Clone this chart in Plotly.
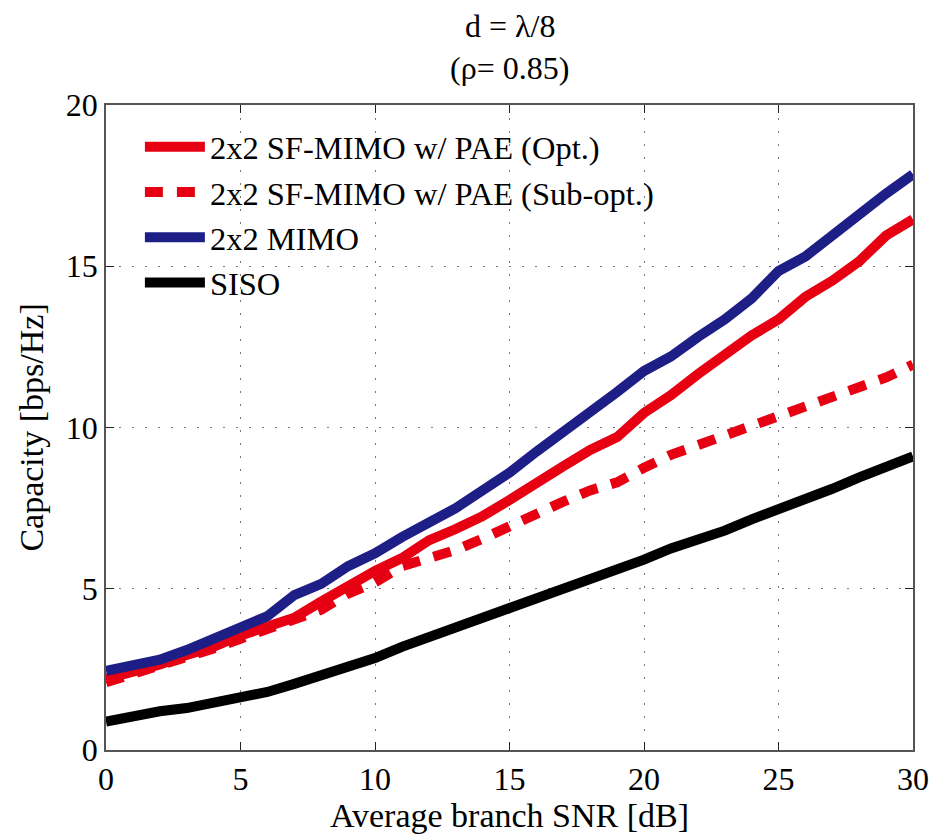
import plotly.graph_objects as go

snr = list(range(0, 31))

mimo_2x2 = [2.45, 2.6, 2.8, 3.1, 3.45, 3.85, 4.15, 4.8, 5.15, 5.7, 6.1,
            6.6, 7.05, 7.5, 8.05, 8.6, 9.25, 9.85, 10.45, 11.1, 11.75,
            12.2, 12.8, 13.35, 14.0, 14.85, 15.3, 16.0, 16.6, 17.25, 17.85]

sf_opt = [2.2, 2.4, 2.65, 2.95, 3.2, 3.55, 3.8, 4.1, 4.6, 5.1, 5.55,
          5.95, 6.5, 6.85, 7.25, 7.75, 8.3, 8.8, 9.3, 9.7, 10.45,
          11.0, 11.65, 12.25, 12.85, 13.35, 14.05, 14.55, 15.15, 15.95, 16.45]

sf_subopt = [2.1, 2.35, 2.6, 2.85, 3.15, 3.45, 3.75, 4.0, 4.35, 4.85, 5.2,
             5.7, 5.95, 6.2, 6.55, 6.95, 7.3, 7.7, 8.05, 8.3, 8.75,
             9.15, 9.45, 9.75, 10.05, 10.4, 10.65, 10.95, 11.25, 11.55, 11.95]

siso = [0.88, 1.05, 1.2, 1.3, 1.45, 1.6, 1.8, 2.05, 2.3, 2.55, 2.85,
        3.2, 3.5, 3.75, 4.05, 4.35, 4.65, 4.95, 5.3, 5.6, 5.9,
        6.25, 6.5, 6.8, 7.15, 7.45, 7.75, 8.1, 8.45, 8.75, 9.1]

names = ["2x2 SF-MIMO w/ PAE (Opt.)", "2x2 SF-MIMO w/ PAE (Sub-opt.)",
         "2x2 MIMO", "SISO"]
title_lines = ["d = λ/8", "(ρ= 0.85)"]
x_ticks = [0, 5, 10, 15, 20, 25, 30]
y_ticks = [0, 5, 10, 15, 20]

RED = "#E60012"
BLUE = "#1E1E87"
FONT = "Liberation Serif, Times New Roman, serif"

fig = go.Figure()
fig.add_trace(go.Scatter(x=snr, y=sf_opt, mode="lines", name=names[0],
                         line=dict(color=RED, width=10)))
fig.add_trace(go.Scatter(x=snr, y=sf_subopt, mode="lines", name=names[1],
                         line=dict(color=RED, width=10, dash="18px,14px")))
fig.add_trace(go.Scatter(x=snr, y=mimo_2x2, mode="lines", name=names[2],
                         line=dict(color=BLUE, width=10)))
fig.add_trace(go.Scatter(x=snr, y=siso, mode="lines", name=names[3],
                         line=dict(color="black", width=10)))

axis_common = dict(
    showline=True, linecolor="#555", linewidth=1.5, mirror="ticks",
    ticks="inside", ticklen=8, tickcolor="#222",
    showgrid=True, gridcolor="#777", griddash="2px,11px", gridwidth=1.2,
    zeroline=False, tickfont=dict(family=FONT, size=32, color="black"),
)

fig.update_layout(
    width=943, height=835,
    margin=dict(l=106, r=30, t=82, b=82),
    paper_bgcolor="white", plot_bgcolor="white",
    font=dict(family=FONT, color="black"),
    xaxis=dict(range=[0, 30], tickvals=x_ticks, ticktext=[str(v) for v in x_ticks],
               domain=[0, 1],
               title=dict(text="Average branch SNR [dB]", font=dict(family=FONT, size=34),
                          standoff=2),
               **axis_common),
    yaxis=dict(range=[0, 20], tickvals=y_ticks, ticktext=[str(v) for v in y_ticks],
               domain=[0, 648 / 671],
               title=dict(text="Capacity [bps/Hz]", font=dict(family=FONT, size=34),
                          standoff=12),
               **axis_common),
    legend=dict(x=0.042, y=0.978 * 648 / 671, xanchor="left", yanchor="top",
                bgcolor="rgba(255,255,255,0)", borderwidth=0,
                font=dict(family=FONT, size=32.5), tracegroupgap=0,
                itemwidth=60),
    showlegend=True,
)

fig.add_annotation(text=title_lines[0], xref="paper", yref="paper",
                   x=0.5, y=(835 - 82 - 26) / 671, xanchor="center", yanchor="middle",
                   showarrow=False, font=dict(family=FONT, size=32))
fig.add_annotation(text=title_lines[1], xref="paper", yref="paper",
                   x=0.5, y=(835 - 82 - 68) / 671, xanchor="center", yanchor="middle",
                   showarrow=False, font=dict(family=FONT, size=32))

fig.write_html("out.html")
